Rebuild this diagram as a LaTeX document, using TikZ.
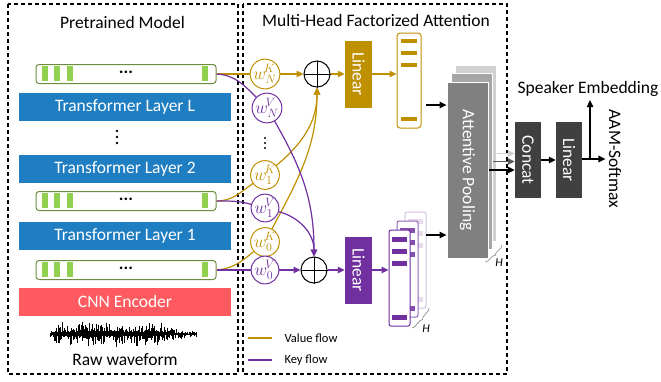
\documentclass[tikz,border=0pt]{standalone}
\usepackage{fontspec}
\usepackage{graphicx}
\setmainfont{Carlito}
\usetikzlibrary{arrows.meta,decorations.pathreplacing,calc}
\definecolor{tblue}{RGB}{30,126,193}
\definecolor{cnnred}{RGB}{255,90,95}
\definecolor{bargreen}{RGB}{146,208,80}
\definecolor{bargreenb}{RGB}{106,142,62}
\definecolor{gold}{RGB}{191,144,0}
\definecolor{purp}{RGB}{112,48,160}
\definecolor{dgray}{RGB}{64,64,64}
\definecolor{apA}{RGB}{128,128,128}
\definecolor{apB}{RGB}{166,166,166}
\definecolor{apC}{RGB}{208,208,208}
\tikzset{
  big/.style={font=\fontsize{17.5}{21}\selectfont},
  legfont/.style={font=\fontsize{12.5}{15}\selectfont},
  dashbox/.style={draw=black, line width=1.1pt, dash pattern=on 4pt off 3pt},
  fbar/.style={draw=bargreenb, line width=1pt, rounded corners=3pt, minimum width=180pt, minimum height=19pt, inner sep=0pt, fill=white},
  tlayer/.style={fill=tblue, text=white, minimum width=212pt, minimum height=28pt, inner sep=0pt, big},
  wcirc/.style={circle, fill=white, line width=1pt, minimum size=25pt, inner sep=0pt, font=\fontsize{17.28}{19}\selectfont},
  wk/.style={wcirc, draw=gold, text=gold},
  wv/.style={wcirc, draw=purp, text=purp},
  oplus/.style={circle, draw=black, fill=white, line width=1pt, minimum size=26pt, inner sep=0pt},
  linbox/.style={minimum width=27pt, minimum height=67pt, inner sep=0pt, text=white, big},
  darkbox/.style={fill=dgray, minimum width=26pt, minimum height=76pt, inner sep=0pt, text=white, big},
  apcard/.style={draw=white, line width=1pt, minimum width=41pt, minimum height=176pt, inner sep=0pt},
  pcard/.style={fill=white, line width=1pt, rounded corners=2pt, minimum width=21pt, minimum height=96pt, inner sep=0pt},
  gflow/.style={draw=gold, line width=1.2pt},
  pflow/.style={draw=purp, line width=1.2pt},
  arr/.style={-{Triangle[length=7pt,width=6.5pt]}},
  blk/.style={draw=black, line width=1.2pt, arr},
  hbrace/.style={decorate, decoration={brace, amplitude=2.5pt}, draw=gray, line width=0.6pt},
  hlab/.style={font=\fontsize{12}{14}\selectfont\itshape},
}
\newcommand{\featbar}[2]{%
  \node[fbar] (#1) at (126,#2) {};
  \foreach \o in {6,18,31,166} {\fill[bargreen] ($(#1.north west)+(\o,2)$) rectangle ++(6.5,15);}
  \node[big] (#1dots) at (126,#2-2) {\textbf{...}};
}
\newcommand{\purpcard}[5]{%
  \node[pcard, draw=#4] (#1) at (#2,#3) {};
  \foreach \o in {7,19,31,85} {\fill[#5] ($(#1.north west)+(3,\o)$) rectangle ++(15,5);}
}
\newcommand{\wlab}[2]{$w^{\!#2}_{#1}$}
\begin{document}
\begin{tikzpicture}[x=1pt,y=-1pt]
\useasboundingbox (0,0) rectangle (661,381);
% dashed frames
\draw[dashbox] (8,4) rectangle (238,374);
\draw[dashbox] (243,4) rectangle (507,374);
\node[big] (tPM) at (122.5,22) {Pretrained Model};
\node[big] (tMH) at (376,20) {Multi-Head Factorized Attention};
% pretrained model column
\featbar{f3}{74}
\node[tlayer] (tL) at (125,106.5) {Transformer Layer L};
\foreach \yy in {131,137,143} {\fill (117,\yy) circle (1.4);}
\node[tlayer] (t2) at (125,169) {Transformer Layer 2};
\featbar{f2}{201}
\node[tlayer] (t1) at (125,235.5) {Transformer Layer 1};
\featbar{f1}{270}
\node[tlayer, fill=cnnred] (cnn) at (125,301.5) {CNN Encoder};
% waveform
\pgfmathsetseed{7}
\foreach \i in {0,...,243}{
  \pgfmathsetmacro\xx{50+\i*0.6}
  \pgfmathsetmacro\env{min(1,(\xx-46)/14)*min(1,max(0.3,(200-\xx)/45))}
  \pgfmathsetmacro\aa{\env*(1.5+12.5*rnd*rnd)}
  \pgfmathsetmacro\bb{\env*(1.5+12.5*rnd*rnd)}
  \draw[line width=0.55pt] (\xx,334-\aa) -- (\xx,334+\bb);
}
\node[big] (raw) at (125,360) {Raw waveform};
% weight circles
\node[wk] (wNK) at (265,74) {\wlab{N}{K}};
\node[wv] (wNV) at (267,108) {\wlab{N}{V}};
\foreach \yy in {138,143,148} {\fill (265,\yy) circle (1.2);}
\node[wk] (w1K) at (265,175) {\wlab{1}{K}};
\node[wv] (w1V) at (265,208) {\wlab{1}{V}};
\node[wk] (w0K) at (265,242) {\wlab{0}{K}};
\node[wv] (w0V) at (265,270) {\wlab{0}{V}};
% adders
\node[oplus] (pT) at (317,74) {};
\draw[line width=1pt] (pT.north) -- (pT.south) (pT.west) -- (pT.east);
\node[oplus] (pB) at (314,270) {};
\draw[line width=1pt] (pB.north) -- (pB.south) (pB.west) -- (pB.east);
% flows from features to weights
\draw[gflow] (f3.east) -- (wNK);
\draw[pflow] (f3.east) to[out=-3,in=135] (wNV);
\draw[gflow] (f2.east) to[out=0,in=-145] (w1K);
\draw[pflow] (f2.east) to[out=0,in=165] (w1V);
\draw[gflow] (f1.east) to[out=5,in=-140] (w0K);
\draw[pflow] (f1.east) -- (w0V);
% flows from weights to adders
\draw[gflow,arr] (wNK) -- (pT);
\draw[gflow,arr] (w1K) to[out=40,in=-90] (pT.south);
\draw[gflow,arr] (w0K) to[out=62,in=-90] (pT.south);
\draw[pflow,arr] (wNV) to[out=-60,in=90] (pB.north);
\draw[pflow,arr] (w1V) to[out=-15,in=90] (pB.north);
\draw[pflow,arr] (w0V) -- (pB);
% linear layers
\node[linbox, fill=gold] (linG) at (358.5,74) {\rotatebox{-90}{Linear}};
\node[linbox, fill=purp] (linP) at (358.5,270) {\rotatebox{-90}{Linear}};
\draw[gflow,arr] (pT) -- (linG);
\draw[pflow,arr] (pB) -- (linP);
% gold value vector
\node[pcard, draw=gold, minimum width=24pt, minimum height=95pt, rounded corners=3pt] (vecG) at (409,80.5) {};
\foreach \o in {6,18,30,84} {\fill[gold] ($(vecG.north west)+(4,\o)$) rectangle ++(16,4.5);}
\draw[gflow,arr] (linG.east) -- (linG.east -| vecG.west);
% purple key cards
\purpcard{pc3}{415.5}{260}{purp!30}{purp!18}
\purpcard{pc2}{407.5}{269}{purp!75}{purp!85}
\purpcard{pc1}{399.5}{278}{purp}{purp}
\draw[pflow,arr] (linP.east) -- (linP.east -| pc1.west);
\draw[hbrace] (429,308) -- (412,328);
\node[hlab] (hP) at (426,329) {H};
% attentive pooling
\node[apcard, fill=apC] (apc3) at (476,153.5) {};
\node[apcard, fill=apB] (apc2) at (471.5,161.5) {};
\node[apcard, fill=apA, text=white, big] (apc1) at (467.5,170) {\rotatebox{-90}{Attentive Pooling}};
\draw[hbrace] (502,245) -- (485,262);
\node[hlab] (hA) at (499,263) {H};
\coordinate (g1) at (426,105);
\coordinate (p1) at (426,235);
\draw[blk] (g1) -- (g1 -| apc1.west);
\draw[blk] (p1) -- (p1 -| apc1.west);
% concat & linear
\node[darkbox] (concat) at (528,160) {\rotatebox{-90}{Concat}};
\node[darkbox] (linO) at (569,160) {\rotatebox{-90}{Linear}};
\draw[draw=apC, line width=1.2pt, arr] (apc3.east) -- (apc3.east -| concat.west);
\draw[draw=apA!70!black, line width=1.2pt, arr] (apc2.east) -- (apc2.east -| concat.west);
\draw[blk] (apc1.east) -- (apc1.east -| concat.west);
\draw[blk] (concat) -- (linO);
\node[big] (aam) at (615,159) {\rotatebox{-90}{AAM-Softmax}};
\node[big] (spk) at (588,89) {Speaker Embedding};
\draw[blk] (linO.east |- 0,159) -- (aam.west |- 0,159);
\coordinate (br) at (590,159);
\draw[blk] (br) -- (br |- spk.south);
% legend
\node[legfont, anchor=west] (lgV) at (281,338) {Value flow};
\node[legfont, anchor=west] (lgK) at (281,360) {Key flow};
\draw[gflow] ([xshift=-33pt]lgV.west) -- ([xshift=-9pt]lgV.west);
\draw[pflow] ([xshift=-33pt]lgK.west) -- ([xshift=-9pt]lgK.west);
\end{tikzpicture}
\end{document}
